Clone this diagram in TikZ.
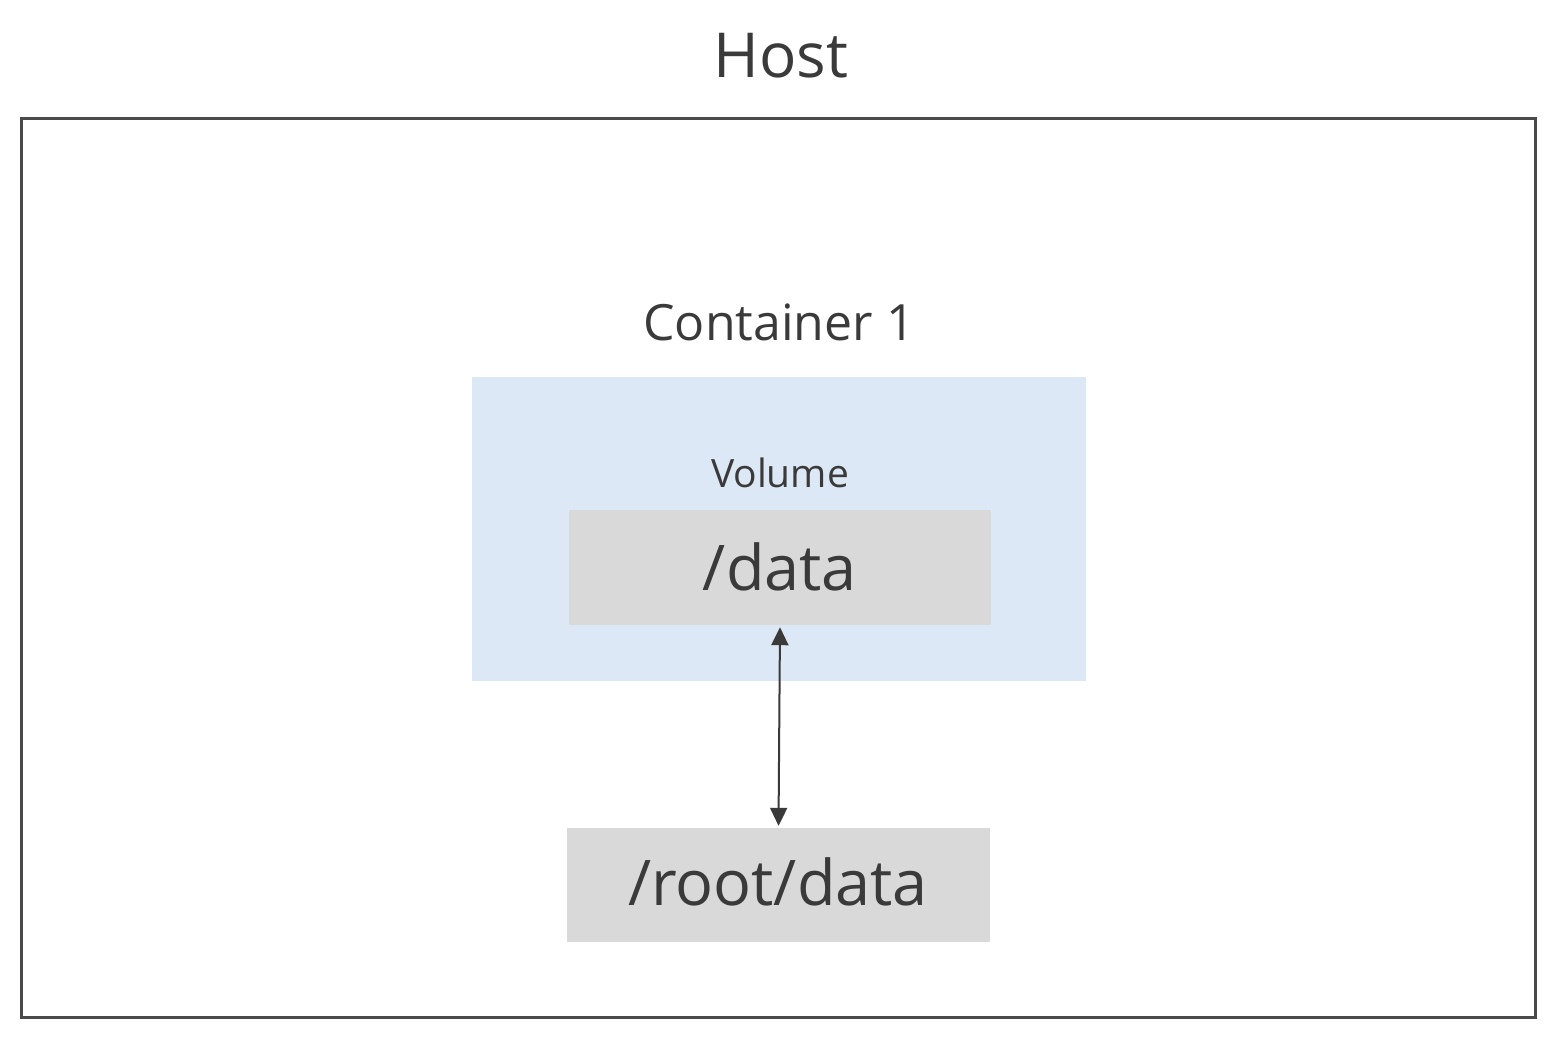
\documentclass[tikz,border=0pt]{standalone}
\usepackage{fontspec}
\setmainfont{Open Sans}
\usetikzlibrary{arrows.meta}
\definecolor{txt}{HTML}{3A3A3A}
\definecolor{frame}{HTML}{4A4A4A}
\definecolor{contfill}{HTML}{DCE8F5}
\definecolor{boxfill}{HTML}{D9D9D9}
\tikzset{
  lbl/.style={text=txt, inner sep=0pt, anchor=base},
  pathbox/.style={fill=boxfill, draw=none, inner sep=0pt},
  link/.style={draw=txt, line width=2pt, {Triangle[length=18pt,width=17pt]}-{Triangle[length=18pt,width=17pt]}, shorten <=2pt, shorten >=2pt}
}
\begin{document}
\begin{tikzpicture}[x=1pt,y=-1pt]
\useasboundingbox (0,0) rectangle (1560,1044);
\fill[white] (0,0) rectangle (1560,1044);
% host frame
\draw[frame, line width=3pt] (21,118) rectangle (1535,1017);
\node[lbl, font=\fontsize{62}{70}\selectfont] (host) at (781,77) {Host};
% container
\fill[contfill] (472,377) rectangle (1086,681);
\node[lbl, font=\fontsize{50}{58}\selectfont] (c1) at (779,340) {Container 1};
\node[lbl, font=\fontsize{39}{46}\selectfont] (vol) at (780,487) {Volume};
% /data
\node[pathbox, minimum width=422pt, minimum height=115pt] (d) at (780,567.5) {};
\node[lbl, font=\fontsize{63}{70}\selectfont] (dt) at (780,590) {/data};
% /root/data
\node[pathbox, minimum width=423pt, minimum height=114pt] (r) at (778.5,885) {};
\node[lbl, font=\fontsize{63}{70}\selectfont] (rt) at (778,905) {/root/data};
% connector
\draw[link] (d.south) -- (r.north);
\end{tikzpicture}
\end{document}
